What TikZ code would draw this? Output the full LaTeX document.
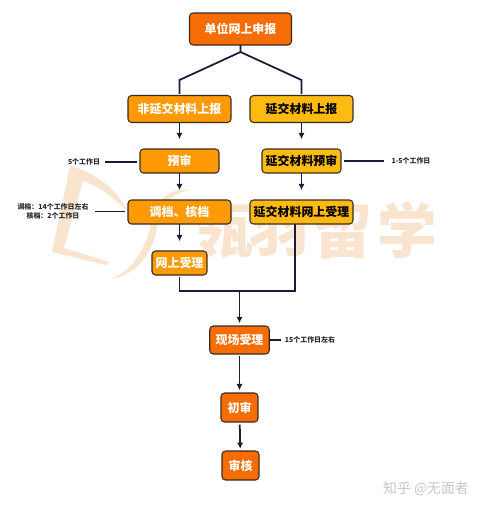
\documentclass[tikz,border=0pt]{standalone}
\usepackage{fontspec}
\setmainfont{Noto Sans CJK SC}
\usetikzlibrary{arrows.meta,positioning}
\definecolor{mydeep}{HTML}{F76D05}
\definecolor{mymid}{HTML}{FF9A05}
\definecolor{myyellow}{HTML}{FDBA12}
\definecolor{myedge}{HTML}{3A2A20}
\definecolor{myline}{HTML}{1C1B3A}
\definecolor{mywater}{HTML}{F8E4CF}
\newcommand{\boxfont}{\fontsize{6.8}{8}\selectfont\bfseries}
\newcommand{\notefont}{\fontsize{3.95}{5.2}\selectfont\bfseries}
\begin{document}
\begin{tikzpicture}[
  x=0.02cm,y=-0.02cm,
  stepbox/.style={draw=myedge,line width=0.6pt,rounded corners=2pt,font=\boxfont,
    inner sep=0pt,outer sep=0pt,align=center,minimum height=0.48cm},
  deepbox/.style={stepbox,fill=mydeep,text=white},
  midbox/.style={stepbox,fill=mymid,text=white},
  latebox/.style={stepbox,fill=myyellow,text=black},
  notetext/.style={font=\notefont,text=black!85,align=center,inner sep=0pt,outer sep=0pt},
  markword/.style={font=\fontsize{34}{34}\selectfont\bfseries,text=mywater,inner sep=0pt},
  flow/.style={draw=myline,line width=1pt,-{Latex[length=3.6pt,width=3.6pt]}},
  link/.style={draw=myline,line width=1pt},
  noteline/.style={draw=myline,line width=0.85pt}
]
  \useasboundingbox (0,0) rectangle (483,511);
  % watermark
  \fill[mywater] (70,166) .. controls (95,172) and (118,190) .. (128,212)
    .. controls (112,196) and (98,186) .. (83,181) -- (64,248) -- (110,262) -- (106,265) -- (52,252) -- cycle;
  \fill[mywater] (112,279) .. controls (135,268) and (148,245) .. (152,218)
    .. controls (155,200) and (170,188) .. (190,190)
    .. controls (172,194) and (160,204) .. (158,222)
    .. controls (154,252) and (138,274) .. (112,279) -- cycle;
  \node[markword] (markA) at (223,230) {瓴};
  \node[markword] (markB) at (279,230) {羽};
  \node[markword] (markC) at (342,230) {留};
  \node[markword] (markD) at (407,230) {学};
  % main column boxes
  \node[deepbox,minimum width=2.04cm,minimum height=0.64cm] (applyBox) at (240.5,29) {单位网上申报};
  \node[midbox,minimum width=2.06cm,minimum height=0.54cm] (plainBox) at (179.5,109) {非延交材料上报};
  \node[latebox,minimum width=2.06cm,minimum height=0.54cm] (lateBox) at (301.5,109) {延交材料上报};
  \node[midbox,minimum width=1.58cm] (preBox) at (179.5,161) {预审};
  \node[latebox,minimum width=1.58cm] (latePreBox) at (301.5,161) {延交材料预审};
  \node[midbox,minimum width=2.06cm] (fileBox) at (179.5,212) {调档、核档};
  \node[latebox,minimum width=2.06cm] (lateNetBox) at (301.5,212) {延交材料网上受理};
  \node[midbox,minimum width=1.1cm] (netBox) at (179.5,263) {网上受理};
  \node[deepbox,minimum width=1.19cm,minimum height=0.56cm] (siteBox) at (239.5,340) {现场受理};
  \node[deepbox,minimum width=0.74cm,minimum height=0.58cm] (firstBox) at (239.5,407.5) {初审};
  \node[deepbox,minimum width=0.74cm,minimum height=0.58cm] (checkBox) at (240.5,465.5) {审核};
  % side notes
  \node[notetext] (noteA) at (84,162) {5个工作日};
  \node[notetext] (noteB) at (411,161) {1-5个工作日};
  \node[notetext] (noteC) at (53,211.5) {调档：14个工作日左右\\核档：2个工作日};
  \node[notetext] (noteD) at (310,340) {15个工作日左右};
  \draw[noteline,shorten <=2.6pt,shorten >=1.6pt] (noteA) -- (noteA-|preBox.west);
  \draw[noteline,shorten <=1.6pt,shorten >=4.5pt] (latePreBox.east) -- (noteB.west|-latePreBox.east);
  \draw[noteline,shorten <=4pt,shorten >=1.6pt] (noteC) -- (noteC-|fileBox.west);
  \draw[noteline,shorten >=2pt] (siteBox.east) -- (noteD);
  % fork at the top
  \coordinate (forkTop) at (240.5,52);
  \coordinate (forkL) at (179.5,80);
  \coordinate (forkR) at (301.5,80);
  \draw[link,shorten >=1pt] (applyBox.south) -- (forkTop) -- (forkL) -- (plainBox.north);
  \draw[link,shorten >=1pt] (forkTop) -- (forkR) -- (lateBox.north);
  % arrows
  \draw[flow,shorten >=5.6pt] (plainBox) -- (preBox);
  \draw[flow,shorten >=5.6pt] (lateBox) -- (latePreBox);
  \draw[flow,shorten >=5.6pt] (preBox) -- (fileBox);
  \draw[flow,shorten >=5.6pt] (latePreBox) -- (lateNetBox);
  \draw[flow,shorten >=5.6pt] (fileBox) -- (netBox);
  % merge of both branches
  \coordinate (lateOut) at (295,224);
  \coordinate (mergePt) at (239.5,291);
  \draw[link,shorten <=1pt] (netBox.south) |- (mergePt) -| (lateOut);
  \draw[flow,shorten >=1.6pt] (mergePt) -- (siteBox.north);
  \draw[flow,shorten <=1pt,shorten >=1.6pt] (siteBox) -- (firstBox);
  \draw[flow,shorten <=1.5pt,shorten >=1.2pt] (firstBox) -- (checkBox);
  % platform mark
  \node[font=\fontsize{7.9}{9}\selectfont,text=black!22,inner sep=0pt] (siteMark) at (426,489) {知乎 @无面者};
\end{tikzpicture}
\end{document}
